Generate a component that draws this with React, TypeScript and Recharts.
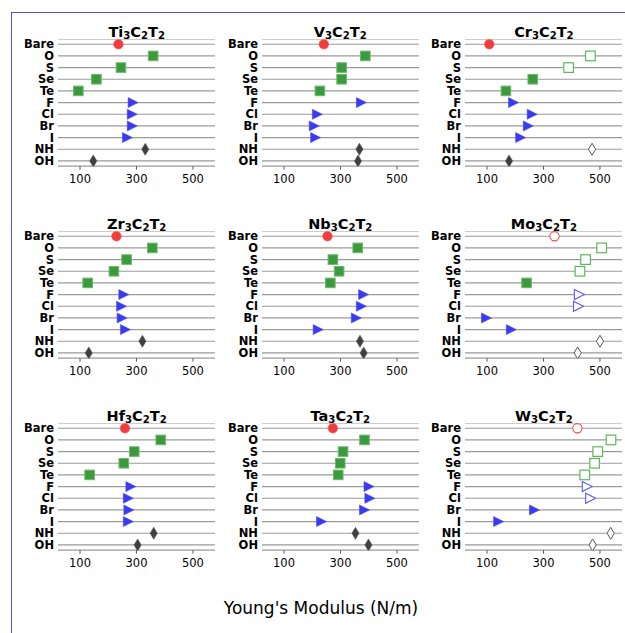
import React from "react";
import { ScatterChart, Scatter, XAxis, YAxis, CartesianGrid } from "recharts";

const categories = ["Bare", "O", "S", "Se", "Te", "F", "Cl", "Br", "I", "NH", "OH"];
const metals = ["Ti", "V", "Cr", "Zr", "Nb", "Mo", "Hf", "Ta", "W"];
const xTicks = [100, 300, 500];

// Young's modulus (N/m) per termination, same order as categories
const ti = [236, 359, 245, 158, 94, 288, 285, 285, 268, 331, 147];
const v = [241, 388, 304, 304, 227, 374, 218, 207, 212, 367, 362];
const cr = [108, 466, 389, 262, 167, 194, 260, 246, 219, 472, 178];
const zr = [229, 356, 265, 220, 127, 255, 247, 249, 261, 321, 131];
const nb = [254, 361, 273, 295, 264, 382, 374, 356, 221, 369, 382];
const mo = [339, 506, 449, 429, 240, 427, 424, 98, 186, 500, 421];
const hf = [259, 386, 292, 255, 134, 280, 271, 273, 271, 361, 304];
const ta = [273, 385, 309, 299, 292, 401, 404, 385, 233, 353, 399];
const w = [420, 539, 492, 481, 446, 455, 467, 268, 141, 538, 474];

// terminations drawn as open markers
const hollowCr = ["O", "S", "NH"];
const hollowMo = ["Bare", "O", "S", "Se", "F", "Cl", "NH", "OH"];
const hollowW = ["Bare", "O", "S", "Se", "Te", "F", "Cl", "NH", "OH"];

const values = [ti, v, cr, zr, nb, mo, hf, ta, w];
const hollows: string[][] = [[], [], hollowCr, [], [], hollowMo, [], [], hollowW];

const FONT = "DejaVu Sans";
const PLOT_W = 157;
const STEP = 11.67;
const PLOT_H = STEP * 10.9;
const Y_AXIS_W = 50;
const X_AXIS_H = 30;

function Marker(props: any) {
    const { cx, cy, payload } = props;
    if (cx == null || cy == null) return null;
    const i = payload.y;
    const open = payload.hollow;
    if (i === 0) {
        return open ? (
            <circle cx={cx} cy={cy} r={4.6} fill="#fff" stroke="#f05050" strokeWidth={1.1} />
        ) : (
            <circle cx={cx} cy={cy} r={4.8} fill="#f03c3c" stroke="#f46060" strokeWidth={0.6} />
        );
    }
    if (i <= 4) {
        const s = 9.6;
        return open ? (
            <rect x={cx - s / 2} y={cy - s / 2} width={s} height={s} fill="#fff" stroke="#5cb85c" strokeWidth={1.2} />
        ) : (
            <rect x={cx - s / 2} y={cy - s / 2} width={s} height={s} fill="#3d993d" stroke="#6cb86c" strokeWidth={1} />
        );
    }
    if (i <= 8) {
        const pts = `${cx - 5},${cy - 5} ${cx + 5},${cy} ${cx - 5},${cy + 5}`;
        return open ? (
            <polygon points={pts} fill="#fff" stroke="#5a5af5" strokeWidth={1.1} />
        ) : (
            <polygon points={pts} fill="#3a3aef" stroke="#4a4af2" strokeWidth={0.6} />
        );
    }
    const pts = `${cx},${cy - 6} ${cx + 3.6},${cy} ${cx},${cy + 6} ${cx - 3.6},${cy}`;
    return open ? (
        <polygon points={pts} fill="#fff" stroke="#555" strokeWidth={1} />
    ) : (
        <polygon points={pts} fill="#3f3f3f" stroke="#555" strokeWidth={0.6} />
    );
}

function Panel({ index }: { index: number }) {
    const row = Math.floor(index / 3);
    const col = index % 3;
    const plotLeft = 58.2 + col * 203.6;
    const plotTop = 38.75 + row * 192;
    const data = values[index].map((x, i) => ({
        x,
        y: i,
        hollow: hollows[index].includes(categories[i]),
    }));
    const metal = metals[index];

    return (
        <>
            {/* Title */}
            <div
                style={{
                    position: "absolute",
                    left: plotLeft,
                    width: PLOT_W,
                    top: 21.7 + row * 192,
                    height: 20,
                    lineHeight: "20px",
                    textAlign: "center",
                    fontFamily: FONT,
                    fontWeight: "bold",
                    fontSize: 14.5,
                    whiteSpace: "nowrap",
                }}
            >
                {metal}
                <span style={{ fontSize: "0.7em", position: "relative", top: "0.25em" }}>3</span>C
                <span style={{ fontSize: "0.7em", position: "relative", top: "0.25em" }}>2</span>T
                <span style={{ fontSize: "0.7em", position: "relative", top: "0.25em" }}>2</span>
            </div>

            <div style={{ position: "absolute", left: plotLeft - Y_AXIS_W, top: plotTop }}>
                <ScatterChart
                    width={Y_AXIS_W + PLOT_W}
                    height={PLOT_H + X_AXIS_H}
                    margin={{ top: 0, right: 0, left: 0, bottom: 0 }}
                >
                    <CartesianGrid vertical={false} stroke="#9a9a9a" strokeWidth={1.2} />
                    <XAxis
                        type="number"
                        dataKey="x"
                        domain={[22, 578]}
                        allowDataOverflow
                        ticks={xTicks}
                        height={X_AXIS_H}
                        axisLine={false}
                        tickLine={{ stroke: "#333", strokeWidth: 0.8 }}
                        tickSize={3.5}
                        tickMargin={5}
                        tick={{ fontSize: 11.5, fill: "#000", fontFamily: FONT }}
                    />
                    <YAxis
                        type="number"
                        dataKey="y"
                        domain={[-0.45, 10.45]}
                        allowDataOverflow
                        reversed
                        ticks={categories.map((_, i) => i)}
                        interval={0}
                        tickFormatter={(i) => categories[i]}
                        width={Y_AXIS_W}
                        axisLine={false}
                        tickLine={false}
                        tickSize={0}
                        tickMargin={4}
                        tick={{ fontSize: 11.5, fill: "#000", fontWeight: "bold", fontFamily: FONT }}
                    />
                    <Scatter data={data} shape={(p: any) => <Marker {...p} />} isAnimationActive={false} />
                </ScatterChart>
            </div>
        </>
    );
}

export default function App() {
    return (
        <div
            style={{
                position: "fixed",
                left: 0,
                top: 0,
                width: 625,
                height: 633,
                background: "#fff",
                overflow: "hidden",
                fontFamily: FONT,
            }}
        >
            {/* Frame */}
            <div
                style={{
                    position: "absolute",
                    left: 11,
                    top: 12,
                    width: 700,
                    height: 700,
                    borderTop: "1px solid #5050f0",
                    borderLeft: "1px solid #5050f0",
                }}
            />
            {metals.map((_, i) => (
                <Panel key={i} index={i} />
            ))}
            {/* Shared x label */}
            <div
                style={{
                    position: "absolute",
                    left: 121,
                    width: 400,
                    top: 596,
                    height: 24,
                    lineHeight: "24px",
                    textAlign: "center",
                    fontSize: 17,
                    fontFamily: FONT,
                }}
            >
                Young's Modulus (N/m)
            </div>
        </div>
    );
}
